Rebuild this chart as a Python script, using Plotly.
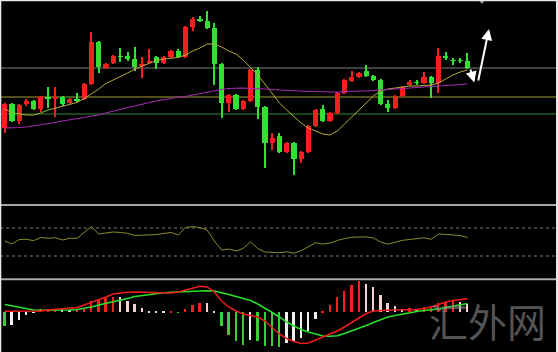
import plotly.graph_objects as go

# ---------------- data ----------------
periods = list(range(65))

open_ = [72, 96, 79, 96, 99, 91, 103, 101, 103, 97, 101, 101, 116, 158, 132, 137, 144, 144, 141, 134,
         137, 143, 137, 143, 149, 143, 173, 181, 179, 172, 136, 97, 105, 91, 99, 130, 93, 57, 64, 48,
         57, 41, 48, 74, 91, 79, 87, 107, 119, 123, 129, 124, 120, 96, 92, 104, 115, 118, 117, 123,
         117, 144, 140, 140, 139]
close = [96, 79, 95, 99, 91, 103, 101, 103, 96, 101, 99, 116, 158, 133, 136, 144, 143, 141, 133, 136,
         139, 137, 143, 149, 143, 173, 181, 179, 172, 136, 97, 105, 91, 99, 130, 93, 57, 62, 48, 57,
         41, 48, 74, 90, 79, 87, 107, 120, 123, 127, 124, 120, 96, 92, 104, 113, 118, 117, 123, 117,
         144, 142, 139, 139, 132]
high = [97, 97, 96, 101, 100, 104, 113, 113, 104, 102, 107, 117, 168, 159, 137, 145, 152, 148, 153, 143,
        151, 144, 144, 150, 151, 174, 183, 184, 189, 177, 137, 106, 106, 100, 131, 133, 94, 67, 67, 58,
        58, 49, 75, 91, 95, 88, 108, 121, 129, 128, 135, 125, 121, 100, 105, 114, 120, 120, 128, 124,
        152, 148, 142, 142, 147]
low = [67, 78, 76, 94, 90, 88, 92, 83, 94, 96, 98, 100, 115, 127, 131, 136, 138, 139, 129, 122,
       136, 131, 136, 142, 142, 142, 169, 178, 171, 115, 82, 88, 90, 90, 98, 81, 32, 50, 47, 47,
       25, 37, 47, 73, 78, 78, 86, 106, 118, 122, 123, 119, 95, 88, 91, 103, 114, 115, 116, 102,
       107, 140, 135, 137, 131]

ma_short = [91, 87.5, 86, 85, 85, 87, 90, 92, 94, 96, 97.5, 101.5, 106, 111, 116.5, 120, 123, 127, 131, 134,
            137, 139.5, 141, 141.5, 142.5, 145, 149, 152, 156, 156, 153, 149, 146, 140, 133, 125, 116, 106, 97, 90,
            83, 77, 72, 69, 66, 65, 69, 76, 83, 90, 98, 104, 109, 111, 112, 113, 114, 114, 114.5, 115,
            117, 121, 125, 128, 130]
ma_long = [72, 72, 72.5, 73, 74, 75, 76, 77.5, 79, 80, 81, 82.5, 84, 85, 87, 89, 91, 92.5, 94, 96,
           97.5, 99, 100, 101.5, 103, 103.5, 105, 106.5, 108, 109.5, 110.5, 111.5, 112, 112, 111.5, 111.5, 111, 110.5, 110, 109.5,
           109, 109, 108.5, 108.5, 108, 108, 108, 108.5, 109, 109, 109, 109.5, 110, 110.5, 111, 111.5, 112, 112.5, 113, 113,
           114, 114.5, 115, 115.5, 116]
price_levels = [132, 103, 86]

rsi = [51.4, 47.1, 53.6, 53.9, 51.9, 56.4, 55.3, 56.1, 52.9, 55.3, 55.3, 64.3, 72.1, 61.4, 62.9, 64.3, 63.6, 62.4, 59.3, 59.6,
       60.0, 60.7, 62.1, 63.6, 60.0, 70.7, 71.9, 70.7, 67.1, 51.4, 38.6, 40.0, 37.1, 41.0, 50.0, 40.7, 35.7, 34.7, 34.7, 36.0,
       33.9, 37.6, 43.6, 48.9, 47.1, 48.6, 52.1, 55.0, 56.7, 57.1, 57.4, 55.7, 50.0, 46.9, 49.3, 52.4, 53.6, 54.6, 56.0, 53.9,
       61.4, 60.9, 60.4, 59.3, 56.4]
rsi_levels = [70, 30]

dif = [1.0, 1.0, 1.0, 1.0, 1.0, 1.3, 2.3, 2.8, 3.3, 3.8, 4.8, 7.3, 9.8, 12.3, 15.3, 18.3, 19.3, 20.0, 20.3, 20.0,
       19.6, 19.3, 19.3, 19.3, 20.3, 22.3, 24.3, 26.0, 25.3, 20.3, 11.3, 5.3, 1.3, -1.7, -3.2, -4.7, -8.7, -15.7, -21.7, -26.2,
       -29.2, -31.2, -30.7, -27.7, -24.7, -22.4, -18.7, -14.7, -10.2, -5.7, -1.2, 1.3, 2.0, 2.1, 2.3, 2.3, 2.5, 2.8, 3.8, 5.3,
       7.8, 10.3, 11.8, 12.8, 13.6]
dea = [7.8, 6.3, 4.8, 3.8, 2.3, 2.0, 2.0, 2.0, 2.0, 2.3, 2.8, 3.8, 5.3, 7.3, 8.8, 10.8, 12.3, 13.8, 15.8, 16.8,
       17.8, 19.0, 19.6, 20.0, 20.3, 20.8, 21.3, 21.5, 21.6, 21.3, 19.8, 17.8, 15.8, 13.8, 11.8, 8.3, 4.3, -0.2, -4.7, -9.7,
       -13.7, -17.2, -19.7, -21.7, -23.7, -24.0, -23.5, -21.2, -18.7, -16.2, -13.2, -10.2, -7.2, -4.7, -3.2, -1.7, -0.2, 0.8, 1.8, 2.3,
       3.3, 4.8, 6.3, 7.8, 8.8]
macd_hist = [-13.3, -12.3, -7.3, -2.3, -0.7, 3.3, 3.7, 3.8, 3.3, 2.7, 2.7, 4.3, 11.0, 12.7, 14.3, 15.3, 15.0, 11.7, 8.3, 4.3,
             1.7, 0.6, 0.5, 0.5, -0.3, 3.7, 7.7, 9.3, 9.0, 0.5, -14.0, -22.3, -29.0, -32.3, -27.3, -29.0, -33.5, -34.0, -34.3, -31.0,
             -28.5, -25.5, -19.0, -7.0, 1.0, 7.0, 15.3, 21.7, 27.7, 31.0, 28.3, 25.0, 17.0, 9.3, 6.0, 3.7, 4.3, 3.3, 5.0, 6.0,
             9.3, 10.7, 11.7, 10.5, 8.0]

watermark = "汇外网"

# ---------------- styling ----------------
W, H = 558, 352
UP, DOWN = "#f42020", "#34e034"

def py(px):  # pixel row -> paper fraction
    return 1 - px / H

candle_col = [UP if c >= o else DOWN for o, c in zip(open_, close)]
body_base = [min(o, c) for o, c in zip(open_, close)]
body_h = [max(abs(c - o), 0.8) for o, c in zip(open_, close)]
wick_h = [h - l for h, l in zip(high, low)]

hist_col = []
prev = 0
for v in macd_hist:
    if v >= 0:
        hist_col.append("#f42020" if v >= prev else "#f2d2d2")
    else:
        hist_col.append("#34d034" if v <= prev else "#f0f0f0")
    prev = v

fig = go.Figure()

# main panel: wicks + bodies
fig.add_trace(go.Bar(x=periods, y=wick_h, base=low, width=0.15, marker=dict(color=candle_col, line_width=0),
                     yaxis="y", hoverinfo="skip"))
fig.add_trace(go.Bar(x=periods, y=body_h, base=body_base, width=0.72, marker=dict(color=candle_col, line_width=0),
                     yaxis="y", hoverinfo="skip"))
fig.add_trace(go.Scatter(x=periods, y=ma_short, mode="lines", line=dict(color="#b4ac3c", width=1), yaxis="y"))
fig.add_trace(go.Scatter(x=periods, y=ma_long, mode="lines", line=dict(color="#a22cb0", width=1.2), yaxis="y"))

# RSI panel
fig.add_trace(go.Scatter(x=periods, y=rsi, mode="lines", line=dict(color="#8e8a26", width=1), yaxis="y2"))

# MACD panel
fig.add_trace(go.Bar(x=periods, y=macd_hist, width=0.26, marker=dict(color=hist_col, line_width=0),
                     yaxis="y3", hoverinfo="skip"))
fig.add_trace(go.Scatter(x=periods, y=dea, mode="lines", line=dict(color="#28e028", width=1.5), yaxis="y3"))
fig.add_trace(go.Scatter(x=periods, y=dif, mode="lines", line=dict(color="#f01c1c", width=1.5), yaxis="y3"))

# small gray marker at the top
fig.add_trace(go.Scatter(x=[66.0], y=[199.5], mode="markers",
                         marker=dict(symbol="triangle-down", size=7, color="#9a9a9a"), yaxis="y"))

shapes = []
level_cols = ["#7c7c7c", "#a09c34", "#2f8a2f"]
for lv, col in zip(price_levels, level_cols):
    shapes.append(dict(type="line", xref="paper", x0=0, x1=1, yref="y", y0=lv, y1=lv,
                       line=dict(color=col, width=1), layer="below"))
for lv in rsi_levels:
    shapes.append(dict(type="line", xref="paper", x0=0, x1=1, yref="y2", y0=lv, y1=lv,
                       line=dict(color="#7a7a7a", width=1, dash="dot"), layer="below"))
# panel separators
for pxr in (205, 279.2):
    shapes.append(dict(type="line", xref="paper", x0=0, x1=1, yref="paper", y0=py(pxr), y1=py(pxr),
                       line=dict(color="#a8a8a8", width=2)))
# light frame on top, left, right
shapes.append(dict(type="rect", xref="paper", yref="paper", x0=0, x1=1, y0=py(1.3), y1=1,
                   fillcolor="#e8e8e8", line_width=0))
shapes.append(dict(type="rect", xref="paper", yref="paper", x0=0, x1=1.3 / W, y0=0, y1=1,
                   fillcolor="#e8e8e8", line_width=0))
shapes.append(dict(type="rect", xref="paper", yref="paper", x0=1 - 2 / W, x1=1, y0=0, y1=1,
                   fillcolor="#e8e8e8", line_width=0))

annotations = [
    dict(x=64.95, y=117.5, ax=64.36, ay=132, xref="x", yref="y", axref="x", ayref="y",
         showarrow=True, arrowhead=2, arrowsize=1.1, arrowwidth=2, arrowcolor="white", text=""),
    dict(x=66.98, y=171, ax=65.46, ay=118, xref="x", yref="y", axref="x", ayref="y",
         showarrow=True, arrowhead=2, arrowsize=1.1, arrowwidth=2, arrowcolor="white", text=""),
    dict(x=428 / W, y=py(349), xref="paper", yref="paper", xanchor="left", yanchor="bottom",
         text=watermark, showarrow=False, borderpad=0,
         font=dict(family="Noto Sans CJK SC", size=39, color="rgba(140,140,140,0.6)")),
]

x_lo = -4.7 / 7.23
x_hi = (W - 4.7) / 7.23
ax_common = dict(showgrid=False, zeroline=False, showticklabels=False, showline=False, ticks="")

fig.update_layout(
    width=W, height=H, margin=dict(l=0, r=0, t=0, b=0),
    paper_bgcolor="black", plot_bgcolor="black",
    showlegend=False, barmode="overlay", bargap=0,
    xaxis=dict(range=[x_lo, x_hi], **ax_common),
    yaxis=dict(domain=[py(203), 1], range=[200 - 203, 200], **ax_common),
    yaxis2=dict(domain=[py(278), py(206)], range=[(277 - 278) / 0.7, (277 - 206) / 0.7], **ax_common),
    yaxis3=dict(domain=[0, py(280)], range=[312.3 - 352, 312.3 - 280], **ax_common),
    shapes=shapes, annotations=annotations,
)

fig.write_html("out.html")
